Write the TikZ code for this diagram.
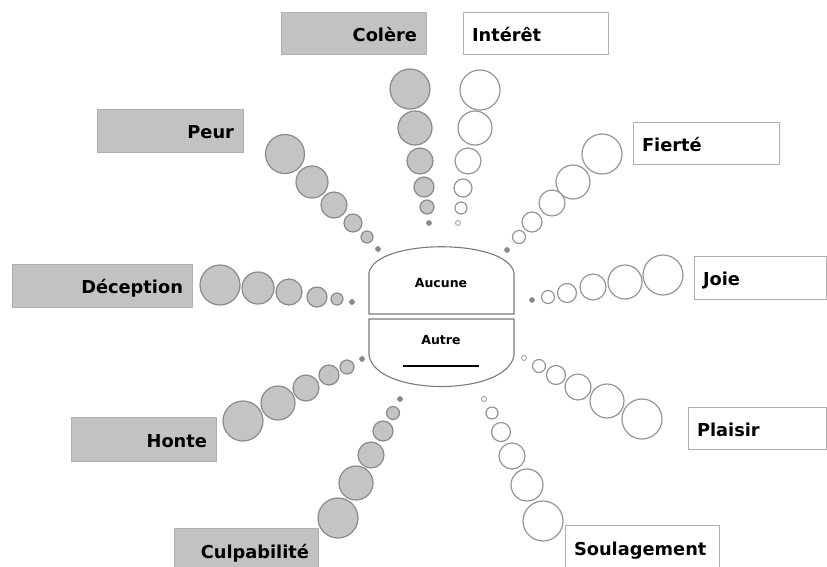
\documentclass[tikz,border=0pt]{standalone}
\usepackage{fontspec}
\setmainfont{DejaVu Sans}
\definecolor{boxgray}{HTML}{C2C2C2}
\definecolor{boxedge}{HTML}{B0B0B0}
\definecolor{circgray}{HTML}{C4C4C4}
\definecolor{circedge}{HTML}{8A8A8A}
\definecolor{wedge}{HTML}{959595}
\definecolor{shapeedge}{HTML}{7A7A7A}
\begin{document}
\begin{tikzpicture}[x=1pt,y=-1pt,
  lbl/.style={font=\fontsize{17.8}{20}\selectfont\bfseries, text height=16pt, text depth=0pt, inner xsep=9pt, inner ysep=0pt, line width=1pt, draw=boxedge},
  gbox/.style={lbl, fill=boxgray, align=right},
  wbox/.style={lbl, fill=white, align=left},
  gc/.style={circle, inner sep=0pt, fill=circgray, draw=circedge, line width=1.2pt},
  wc/.style={circle, inner sep=0pt, fill=white, draw=wedge, line width=1.2pt},
  gdot/.style={circle, inner sep=0pt, minimum size=5pt, fill=circedge, draw=circedge, line width=0.6pt},
  wdot/.style={circle, inner sep=0pt, minimum size=5pt, fill=white, draw=wedge, line width=0.8pt},
  mid/.style={font=\fontsize{12.5}{14}\selectfont\bfseries, inner sep=0pt},
  hub/.style={draw=shapeedge, line width=1.1pt, fill=white},
]
\useasboundingbox (0,0) rectangle (827,566);

% label boxes
\node[gbox, text width=127pt, minimum height=42pt] (colere) at (353.5,33) {Colère};
\node[gbox, text width=128pt, minimum height=43pt] (peur) at (170,130.5) {Peur};
\node[gbox, text width=162pt, minimum height=43pt] (deception) at (102,285.5) {Déception};
\node[gbox, text width=127pt, minimum height=44pt] (honte) at (143.5,439) {Honte};
\node[gbox, text width=126pt, minimum height=44pt] (culpa) at (246,550) {Culpabilité};
\node[wbox, text width=127pt, minimum height=42pt] (interet) at (535.5,33) {Intérêt};
\node[wbox, text width=128pt, minimum height=42pt] (fierte) at (706,143) {Fierté};
\node[wbox, text width=114pt, minimum height=43pt] (joie) at (760,277.5) {Joie};
\node[wbox, text width=120pt, minimum height=42pt] (plaisir) at (757,428) {Plaisir};
\node[wbox, text width=136pt, minimum height=45pt] (soulag) at (642,547.5) {Soulagement};

% gray rays
\foreach \i/\x/\y/\d in {1/410/89/40, 2/415/128/34, 3/420/161/26, 4/424/187/20, 5/427/207/14}
  \node[gc, minimum size=\d pt] (colc\i) at (\x,\y) {};
\node[gdot] (colc6) at (429,223) {};
\foreach \i/\x/\y/\d in {1/285/154/39, 2/312/182/32, 3/334/205/26, 4/353/223/18, 5/367/237/12}
  \node[gc, minimum size=\d pt] (peuc\i) at (\x,\y) {};
\node[gdot] (peuc6) at (378,249) {};
\foreach \i/\x/\y/\d in {1/220/285/40, 2/258/288/32, 3/289/292/26, 4/317/297/20, 5/337/299/12}
  \node[gc, minimum size=\d pt] (decc\i) at (\x,\y) {};
\node[gdot] (decc6) at (352,302) {};
\foreach \i/\x/\y/\d in {1/243/421/40, 2/278/403/34, 3/306/388/26, 4/329/375/20, 5/347/367/14}
  \node[gc, minimum size=\d pt] (honc\i) at (\x,\y) {};
\node[gdot] (honc6) at (362,359) {};
\foreach \i/\x/\y/\d in {1/338/518/40, 2/356/483/34, 3/371/455/26, 4/383/431/20, 5/393/413/13}
  \node[gc, minimum size=\d pt] (culc\i) at (\x,\y) {};
\node[gdot] (culc6) at (400,399) {};

% white rays
\foreach \i/\x/\y/\d in {1/480/90/40, 2/475/128/34, 3/468/161/26, 4/463/188/18, 5/461/208/12}
  \node[wc, minimum size=\d pt] (intc\i) at (\x,\y) {};
\node[wdot] (intc6) at (458,223) {};
\foreach \i/\x/\y/\d in {1/602/154/40, 2/573/182/34, 3/552/203/26, 4/532/222/20, 5/519/237/13}
  \node[wc, minimum size=\d pt] (fiec\i) at (\x,\y) {};
\node[gdot] (fiec6) at (507,250) {};
\foreach \i/\x/\y/\d in {1/663/275/40, 2/625/282/34, 3/593/287/26, 4/567/293/19, 5/548/297/13}
  \node[wc, minimum size=\d pt] (joic\i) at (\x,\y) {};
\node[gdot] (joic6) at (532,300) {};
\foreach \i/\x/\y/\d in {1/642/419/40, 2/607/401/34, 3/578/387/26, 4/556/375/19, 5/539/366/13}
  \node[wc, minimum size=\d pt] (plac\i) at (\x,\y) {};
\node[wdot] (plac6) at (524,358) {};
\foreach \i/\x/\y/\d in {1/543/521/40, 2/527/485/32, 3/512/456/26, 4/501/432/19, 5/492/413/12}
  \node[wc, minimum size=\d pt] (souc\i) at (\x,\y) {};
\node[wdot] (souc6) at (484,399) {};

% central shape
\draw[hub] (369,314) -- (369,273) .. controls (375,238) and (508,238) .. (514,273) -- (514,314) -- cycle;
\draw[hub] (369,319) -- (369,355) .. controls (375,397) and (508,397) .. (514,355) -- (514,319) -- cycle;
\node[mid] (aucune) at (441,283) {Aucune};
\node[mid] (autre) at (441,340) {Autre};
\coordinate (ulA) at (403,366);
\coordinate (ulB) at (479,366);
\draw[line width=1.3pt, black] (ulA) -- (ulB);
\end{tikzpicture}
\end{document}
